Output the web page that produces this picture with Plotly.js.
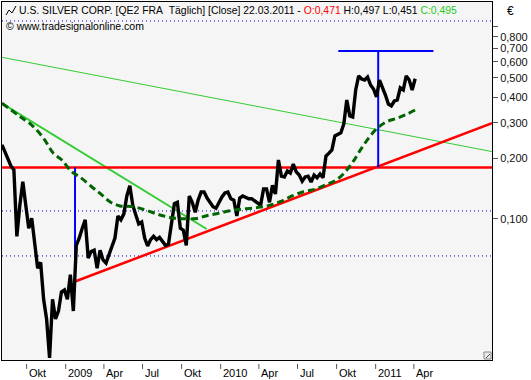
<!DOCTYPE html>
<html>
<head>
<meta charset="utf-8">
<script src="https://cdn.plot.ly/plotly-3.0.1.min.js"></script>
<style>html,body{margin:0;padding:0;background:#fff;}#chart{width:531px;height:380px;}</style>
</head>
<body>
<div id="chart"></div>
<script>
// ---- data ----
const priceStart = '2008-08-04';          // weekly closes from this date
const priceValues = [
 0.233,0.215,0.196,0.183,0.175,0.082,0.117,0.153,0.117,0.090,
 0.101,0.074,0.057,0.061,0.040,0.032,0.0205,0.040,0.032,0.035,
 0.0435,0.0445,0.040,0.053,0.035,0.074,0.0805,0.090,0.099,0.064,
 0.069,0.070,0.057,0.070,0.0627,0.0605,0.066,0.072,0.0805,0.1035,
 0.099,0.106,0.130,0.146,0.117,0.105,0.0945,0.0966,0.0805,0.0735,
 0.079,0.082,0.079,0.081,0.077,0.074,0.075,0.0966,0.119,0.121,
 0.090,0.088,0.074,0.130,0.121,0.108,0.124,0.136,0.136,0.127,
 0.120,0.115,0.113,0.121,0.1285,0.1345,0.136,0.126,0.124,0.1035,
 0.127,0.130,0.1285,0.126,0.126,0.123,0.119,0.117,0.141,0.141,
 0.121,0.147,0.133,0.196,0.163,0.1615,0.173,0.169,0.187,0.171,
 0.165,0.154,0.1615,0.163,0.1525,0.165,0.160,0.167,0.160,0.205,
 0.212,0.220,0.258,0.264,0.267,0.2955,0.3885,0.324,0.320,0.4355,
 0.511,0.494,0.488,0.505,0.461,0.4405,0.402,0.488,0.451,0.411,
 0.371,0.363,0.384,0.3885,0.446,0.4355,0.511,0.488,0.4355,0.495
];
const maDates = ['2008-08-04','2008-09-16','2008-10-13','2008-11-10','2008-12-03','2008-12-23',
 '2009-01-15','2009-02-04','2009-03-03','2009-03-23','2009-04-15','2009-05-09','2009-06-09',
 '2009-07-11','2009-08-11','2009-09-11','2009-10-13','2009-11-06','2009-11-29','2009-12-27',
 '2010-01-23','2010-02-23','2010-03-27','2010-04-23','2010-05-21','2010-06-18','2010-07-15',
 '2010-08-11','2010-09-04','2010-10-02','2010-10-25','2010-11-10','2010-11-25','2010-12-15',
 '2011-01-04','2011-01-27','2011-02-20','2011-03-15','2011-04-04'];
const maValues = [0.374,0.321,0.292,0.251,0.2115,0.196,0.1715,0.161,0.1445,0.134,0.1218,0.116,
 0.1151,0.1102,0.1047,0.1011,0.1002,0.1006,0.1038,0.1067,0.1099,0.1121,0.1138,0.1164,0.1218,
 0.1300,0.1365,0.1403,0.1474,0.1569,0.1748,0.1938,0.2179,0.2510,0.2807,0.3033,0.3154,0.3301,0.3467];

const supportDates = ['2008-08-04','2011-10-02'];   const supportValues = [0.18, 0.18];
const riseDates    = ['2009-01-23','2011-10-02'];   const riseValues    = [0.049, 0.298];
const longDownDates= ['2008-08-04','2011-10-02'];   const longDownValues= [0.632, 0.2157];
const downDates    = ['2008-08-04','2009-11-29'];   const downValues    = [0.374, 0.0892];
const blue1Dates   = ['2009-01-23','2009-01-23'];   const blue1Values   = [0.18, 0.049];
const blue2Dates   = ['2011-01-07','2011-01-07'];   const blue2Values   = [0.18, 0.68];
const targetDates  = ['2010-10-05','2011-05-17'];   const targetValues  = [0.68, 0.68];
const dottedLevels = [0.957, 0.1096, 0.0656];

const xRange = ['2008-08-04','2011-10-02'];
const yTickVals = [0.1,0.2,0.3,0.4,0.5,0.6,0.7,0.8,0.9];
const yTickText = ['0,100','0,200','0,300','0,400','0,500','0,600','0,700','0,800',''];
const xTickDates = ['2008-10-01','2009-01-01','2009-04-01','2009-07-01','2009-10-01','2010-01-01',
 '2010-04-01','2010-07-01','2010-10-01','2011-01-01','2011-04-01'];
const xTickLabels = ['Okt','2009','Apr','Jul','Okt','2010','Apr','Jul','Okt','2011','Apr'];

// ---- build ----
const t0 = Date.parse(priceStart + 'T00:00:00Z');
const priceDates = priceValues.map((_, i) => new Date(t0 + i * 7 * 86400000).toISOString().slice(0, 10));

const FONT = 'Liberation Sans, Arial, sans-serif';
const traces = [];
dottedLevels.forEach(l => traces.push({x: xRange, y: [l, l], mode: 'lines',
  line: {color: '#0000cc', width: 1, dash: '1px,3px'}, hoverinfo: 'skip'}));
traces.push({x: longDownDates, y: longDownValues, mode: 'lines', line: {color: '#33cc33', width: 1}});
traces.push({x: downDates, y: downValues, mode: 'lines', line: {color: '#33cc33', width: 2}});
traces.push({x: supportDates, y: supportValues, mode: 'lines', line: {color: '#ff0000', width: 2.5}});
traces.push({x: riseDates, y: riseValues, mode: 'lines', line: {color: '#ff0000', width: 2.5}});
traces.push({x: blue1Dates, y: blue1Values, mode: 'lines', line: {color: '#0000ff', width: 2}});
traces.push({x: blue2Dates, y: blue2Values, mode: 'lines', line: {color: '#0000ff', width: 2}});
traces.push({x: targetDates, y: targetValues, mode: 'lines', line: {color: '#0000ff', width: 2}});
traces.push({x: priceDates, y: priceValues, mode: 'lines', line: {color: '#000000', width: 3.4}});
traces.push({x: maDates, y: maValues, mode: 'lines', line: {color: '#006400', width: 3, dash: '7px,4px', shape: 'spline'}});

const annotations = xTickDates.map((d, i) => ({
  x: d, xref: 'x', y: 0, yref: 'paper', xanchor: 'left', yanchor: 'top',
  xshift: 0, yshift: -5, text: xTickLabels[i], showarrow: false,
  font: {family: FONT, size: 11, color: '#000'}
}));
annotations.push({
  x: 0, xref: 'paper', y: 1, yref: 'paper', xanchor: 'left', yanchor: 'top', xshift: 15, yshift: -1,
  showarrow: false, font: {family: FONT, size: 10.4, color: '#000'},
  text: 'U.S. SILVER CORP. [QE2 FRA\u00a0\u00a0Täglich] [Close] 22.03.2011 - <span style="color:#ff0000">O:0,471</span> H:0,497 L:0,451 <span style="color:#22cc22">C:0,495</span>'
});
annotations.push({
  x: 0, xref: 'paper', y: 1, yref: 'paper', xanchor: 'left', yanchor: 'top', xshift: 2, yshift: -16,
  showarrow: false, font: {family: FONT, size: 10.5, color: '#000'}, text: '© www.tradesignalonline.com'
});
annotations.push({
  x: 1, xref: 'paper', y: 1, yref: 'paper', xanchor: 'left', yanchor: 'top', xshift: 13, yshift: 0,
  showarrow: false, font: {family: FONT, size: 12, color: '#000'}, text: '€'
});

const shapes = xTickDates.map(d => ({type: 'line', xref: 'x', yref: 'paper', x0: d, x1: d,
  y0: -0.011, y1: -0.025, line: {color: '#555', width: 1}}));
shapes.push({type: 'path', xref: 'paper', yref: 'paper', xsizemode: 'pixel', ysizemode: 'pixel',
  xanchor: 0, yanchor: 1, path: 'M 4 -13 L 7 -8 L 10 -11 L 14 -4', line: {color: '#000', width: 1}});
shapes.push({type: 'path', xref: 'paper', yref: 'paper', xsizemode: 'pixel', ysizemode: 'pixel',
  xanchor: 1, yanchor: 0, path: 'M -8 1 L -1 1 L -1 8 L -8 8 Z', fillcolor: '#e8e8e8', line: {color: '#888', width: 1}});
shapes.push({type: 'path', xref: 'paper', yref: 'paper', xsizemode: 'pixel', ysizemode: 'pixel',
  xanchor: 1, yanchor: 0, path: 'M -6 2 L -2 6', line: {color: '#555', width: 1}});

const layout = {
  width: 531, height: 380,
  margin: {l: 2, r: 39, t: 2, b: 20, pad: 0},
  paper_bgcolor: '#ffffff', plot_bgcolor: '#f5f5f5',
  showlegend: false,
  xaxis: {type: 'date', range: xRange, showgrid: false, zeroline: false, showline: true, mirror: true,
    linecolor: '#000', linewidth: 1, ticks: '', showticklabels: false, fixedrange: true},
  yaxis: {type: 'log', range: [Math.log10(0.02002), Math.log10(1.188)], side: 'right', showgrid: false,
    zeroline: false, showline: true, mirror: true, linecolor: '#000', linewidth: 1,
    ticks: 'outside', ticklen: 5, tickcolor: '#555', tickvals: yTickVals, ticktext: yTickText,
    tickfont: {family: FONT, size: 11, color: '#111'}, fixedrange: true},
  annotations: annotations,
  shapes: shapes
};
Plotly.newPlot('chart', traces, layout, {staticPlot: true, displayModeBar: false});
</script>
</body>
</html>
